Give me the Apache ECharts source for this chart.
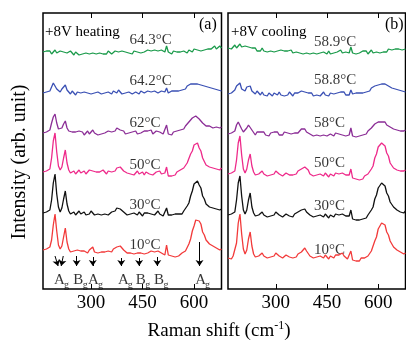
<!DOCTYPE html>
<html>
<head>
<meta charset="utf-8">
<script src="https://cdn.jsdelivr.net/npm/echarts@6/dist/echarts.min.js"></script>
<style>
  html, body { margin: 0; padding: 0; background: #fff; }
  #chart { width: 406px; height: 340px; }
</style>
</head>
<body>
<div id="chart"></div>
<script>
// Raman shift grid (cm-1)
const shifts = [
  160,165,170,175,180,185,190,195,200,205,
  210,215,220,225,230,235,240,245,250,255,
  260,265,270,275,280,285,290,295,300,305,
  310,315,320,325,330,335,340,345,350,355,
  360,365,370,375,380,385,390,395,400,405,
  410,415,420,425,430,435,440,445,450,455,
  460,465,470,475,480,485,490,495,500,505,
  510,515,520,525,530,535,540,545,550,555,
  560,565,570,575,580,585,590,595,600,605,
  610,615,620,625,630,635,640,645,650,655,
  660,665,670,675,680
];

// (a) +8V heating, stacked intensities (arb. unit)
const heat10 = [
  39,37,40,39,42,49,64,75,58,44, 40,43,52,61,47,40,37,39,38,36,
  39,37,38,36,38,37,36,39,40,42, 37,38,36,38,37,39,37,36,38,37,
  37,40,39,42,41,43,41,39,38,36, 38,36,37,35,37,36,38,36,37,35,
  37,36,35,38,36,37,39,38,39,36, 37,34,44,34,35,33,34,32,34,33,
  35,36,35,38,40,45,50,58,63,69, 70,68,65,57,54,49,49,45,46,43,
  44,41,42,39,40
];
const heat30 = [
  76,74,77,76,79,89,106,115,95,82, 77,81,90,98,85,78,75,76,77,74,
  76,78,75,76,77,74,76,75,78,76, 74,76,75,77,74,76,75,77,74,76,
  77,79,78,81,80,80,78,77,76,74, 76,75,73,76,75,74,77,75,73,76,
  75,76,74,75,77,74,76,78,75,76, 73,75,81,74,72,74,72,75,73,75,
  76,75,78,79,83,86,93,98,105,107, 108,104,101,93,90,85,85,82,83,81,
  82,80,81,79,80
];
const heat50 = [
  117,115,118,117,120,131,148,156,137,123, 119,122,131,139,126,119,116,117,118,115,
  117,119,116,117,118,115,117,119,120,118, 116,117,115,117,116,119,117,115,118,116,
  117,119,118,121,120,122,120,118,119,116, 117,115,117,114,116,118,115,116,117,114,
  117,116,115,117,114,116,117,116,118,115, 114,116,122,113,114,113,115,114,117,116,
  119,118,121,122,126,128,135,138,144,146, 146,141,138,131,129,124,125,122,123,121,
  122,120,121,119,121
];
const heat62 = [
  156,154,157,156,159,166,172,175,166,160, 158,161,165,168,161,158,156,157,155,157,
  156,158,156,157,154,156,158,155,157,159, 156,157,154,156,155,157,156,155,158,156,
  157,159,158,161,160,159,157,158,155,157, 156,154,157,156,158,155,157,156,155,158,
  156,158,157,159,155,157,158,156,157,156, 155,157,164,155,156,154,157,156,158,157,
  159,161,160,163,164,167,167,171,170,173, 171,170,169,166,166,163,165,163,164,161,
  163,162,163,161,162
];
const heat642 = [
  196,194,197,196,198,202,206,204,200,198, 197,200,202,204,199,197,195,198,196,194,
  197,195,196,194,197,195,196,198,195,197, 196,194,197,198,195,197,196,194,197,196,
  195,198,197,196,199,197,195,197,196,194, 197,196,195,194,197,196,195,198,197,196,
  195,198,196,197,195,198,197,196,195,198, 196,197,201,196,195,198,197,198,199,198,
  200,199,201,200,203,202,205,203,205,206, 205,206,204,205,203,204,202,203,201,202,
  200,201,199,200,198
];
const heat643 = [
  237,235,238,236,238,235,237,239,236,235, 238,236,237,239,236,235,238,236,234,237,
  236,234,236,235,233,236,237,235,234,236, 238,235,234,236,238,235,237,235,238,236,
  235,237,238,236,237,235,238,236,237,239, 236,237,235,238,236,237,239,236,238,237,
  236,239,237,238,236,239,237,238,236,239, 238,237,243,237,236,235,238,236,237,235,
  237,235,238,237,236,239,238,237,240,238, 239,241,238,240,239,241,240,242,240,241,
  243,240,242,243,241
];

// (b) +8V cooling
const cool10 = [
  31,33,30,33,35,46,66,75,55,40, 35,39,50,57,43,35,32,34,33,35,
  36,33,34,31,33,32,34,33,36,38, 33,34,31,33,34,36,32,33,31,33,
  32,35,34,37,38,41,38,37,33,34, 31,33,32,30,33,32,31,34,32,30,
  33,32,31,34,32,34,33,36,33,34, 30,32,38,29,30,28,30,28,31,29,
  31,30,33,34,38,40,48,52,60,62, 66,65,64,57,54,48,46,42,42,39,
  40,37,38,35,36
];
const cool30 = [
  74,72,75,74,77,89,106,113,93,79, 75,79,89,96,82,76,73,75,74,76,
  77,74,75,72,74,73,75,74,77,79, 74,75,72,74,75,77,73,74,72,75,
  74,77,76,79,78,80,77,77,74,75, 72,74,73,71,74,73,72,75,73,71,
  74,73,72,75,73,74,76,75,76,73, 72,73,79,70,71,69,71,69,71,70,
  72,71,74,75,79,82,90,94,101,102, 106,104,103,96,93,87,86,82,82,79,
  80,77,79,76,78
];
const cool50 = [
  115,113,116,115,118,129,146,153,134,120, 116,120,129,135,123,117,114,116,115,117,
  118,115,116,113,115,114,116,115,118,119, 115,116,113,115,116,118,114,115,114,116,
  115,118,117,120,119,122,120,119,115,116, 113,115,114,112,115,114,113,116,114,112,
  115,114,113,116,114,115,117,116,117,114, 113,114,120,111,112,110,111,109,111,110,
  113,112,115,116,120,123,131,135,142,143, 146,144,143,136,133,126,125,121,122,119,
  121,118,120,118,119
];
const cool58 = [
  155,153,156,155,158,164,167,168,160,157, 156,161,164,166,159,157,154,157,155,157,
  156,157,154,155,153,156,155,157,156,157, 154,156,154,157,155,156,154,155,153,156,
  157,156,158,160,158,160,157,158,155,156, 153,155,154,156,153,155,154,156,153,154,
  155,154,153,156,154,155,157,154,155,153, 155,154,161,153,154,152,154,153,155,154,
  156,155,158,157,161,161,165,164,167,165, 167,165,167,164,165,162,163,160,162,159,
  161,158,160,158,159
];
const cool588 = [
  195,197,196,198,199,203,205,206,200,199, 198,202,201,203,198,197,195,198,196,194,
  197,194,195,193,196,195,193,196,195,194, 197,194,195,193,195,194,197,195,193,196,
  195,196,195,198,196,197,195,196,194,196, 193,195,194,196,193,195,197,194,195,193,
  196,194,195,193,196,195,197,196,197,194, 196,194,199,195,193,196,195,196,197,196,
  198,197,199,198,201,200,203,202,204,203, 205,203,205,204,203,204,201,203,200,201,
  199,200,198,199,197
];
const cool589 = [
  241,243,240,242,244,241,243,245,242,240, 243,241,242,240,241,239,241,238,240,238,
  241,238,239,237,239,238,240,237,239,238, 237,239,237,238,236,238,237,239,236,238,
  237,239,236,238,235,237,236,238,235,237, 236,238,235,237,236,238,237,236,235,238,
  235,237,236,238,237,236,239,236,238,237, 239,236,242,236,237,235,237,236,235,238,
  236,238,235,237,239,236,238,237,239,236, 238,237,239,237,240,238,239,237,240,238,
  240,238,239,237,240
];

// temperature labels, top to bottom
const heatTemps = ['64.3°C', '64.2°C', '62°C', '50°C', '30°C', '10°C'];
const heatTempLevels = [249, 208, 166, 124, 84, 44];
const coolTemps = ['58.9°C', '58.8°C', '58°C', '50°C', '30°C', '10°C'];
const coolTempLevels = [247, 209, 166, 126, 83, 39];
const tempLabelShift = 412;

// phonon mode assignments in panel (a)
const modeNames = ['A', 'B', 'A', 'A', 'B', 'B', 'A'];
const modeShifts = [208, 263, 307, 394, 445, 498, 619];
const modeLevel = 9;
// arrows: [from shift, from level, to shift, to level]
const modeArrows = [
  [195, 33, 204, 23], [219, 33, 213, 23], [258, 33, 258, 23], [305, 32, 305, 23],
  [388, 31, 388, 23], [440, 31, 440, 23], [493, 32, 493, 23], [616, 47, 616, 23]
];

const FONT = 'Liberation Serif';
const colors = ['#1a9a4a', '#3a50b4', '#8b2d96', '#ee2a8a', '#111111', '#f23a3a'];
const ticks = [300, 450, 600];

const chart = echarts.init(document.getElementById('chart'));

function pairs(ys) {
  return shifts.map((x, i) => [x, ys[i]]);
}

function xAxes(g) {
  const base = {
    type: 'value', gridIndex: g, min: 160, max: 680,
    axisLine: { show: false },
    splitLine: { show: false },
    axisTick: { show: true, inside: true, length: 5, customValues: ticks, lineStyle: { color: '#000', width: 1 } }
  };
  return [
    Object.assign({}, base, {
      position: 'bottom',
      axisLabel: { customValues: ticks, fontFamily: FONT, fontSize: 19, color: '#000', margin: 5 }
    }),
    Object.assign({}, base, { position: 'top', axisLabel: { show: false } })
  ];
}

function traceSeries(g, traces) {
  return traces.map((ys, i) => ({
    type: 'line', xAxisIndex: g * 2, yAxisIndex: g,
    data: pairs(ys), showSymbol: false, silent: true,
    lineStyle: { color: colors[i], width: 1.3 },
    itemStyle: { color: colors[i] }
  }));
}

function labelSeries(g, points, size, offset) {
  return {
    type: 'scatter', xAxisIndex: g * 2, yAxisIndex: g, symbolSize: 0, silent: true,
    data: points,
    label: {
      show: true, position: [0, 0], align: offset ? 'center' : 'left', verticalAlign: 'middle',
      offset: offset || [0, 0],
      formatter: p => p.value[2], fontFamily: FONT, fontSize: size, color: '#000'
    }
  };
}

const heatSeries = traceSeries(0, [heat643, heat642, heat62, heat50, heat30, heat10]);
heatSeries[5].markLine = {
  silent: true, animation: false, symbol: ['none', 'arrow'], symbolSize: 6,
  lineStyle: { color: '#000', width: 1, type: 'solid' },
  label: { show: false },
  data: modeArrows.map(a => [{ coord: [a[0], a[1]] }, { coord: [a[2], a[3]] }])
};

const panelText = (x, y, text, size) => ({
  type: 'text', x: x, y: y, silent: true,
  style: { text: text, font: size + 'px ' + FONT, fill: '#000', align: 'left', verticalAlign: 'middle' }
});

chart.setOption({
  animation: false,
  grid: [
    { left: 43, top: 13, right: 184.5, bottom: 51, show: true, borderColor: '#000', borderWidth: 1.5 },
    { left: 228, top: 13, right: 0.5, bottom: 51, show: true, borderColor: '#000', borderWidth: 1.5 }
  ],
  xAxis: xAxes(0).concat(xAxes(1)),
  yAxis: [
    { type: 'value', gridIndex: 0, min: 0, max: 276, show: false },
    { type: 'value', gridIndex: 1, min: 0, max: 276, show: false }
  ],
  series: heatSeries
    .concat(traceSeries(1, [cool589, cool588, cool58, cool50, cool30, cool10]))
    .concat([
      labelSeries(0, heatTemps.map((n, i) => [tempLabelShift, heatTempLevels[i], n]), 15),
      labelSeries(1, coolTemps.map((n, i) => [tempLabelShift, coolTempLevels[i], n]), 15),
      labelSeries(0, modeNames.map((n, i) => [modeShifts[i], modeLevel, n]), 15, [0, 0.01]),
      labelSeries(0, modeNames.map((n, i) => [modeShifts[i], modeLevel, 'g']), 10, [7, 5])
    ]),
  graphic: [
    panelText(45, 32, '+8V heating', 15),
    panelText(199, 25, '(a)', 16),
    panelText(231, 32, '+8V cooling', 15),
    panelText(385, 25, '(b)', 16),
    {
      type: 'text', x: 20, y: 162, rotation: Math.PI / 2, silent: true,
      style: { text: 'Intensity (arb. unit)', font: '20px ' + FONT, fill: '#000', align: 'center', verticalAlign: 'middle' }
    },
    {
      type: 'text', x: 219, y: 331, silent: true,
      style: {
        text: '{n|Raman shift (cm}{p|-1}{n|)}', align: 'center', verticalAlign: 'middle',
        rich: {
          n: { fontFamily: FONT, fontSize: 19, fill: '#000', lineHeight: 22 },
          p: { fontFamily: FONT, fontSize: 12, fill: '#000', verticalAlign: 'top', lineHeight: 22 }
        }
      }
    }
  ]
});
</script>
</body>
</html>
